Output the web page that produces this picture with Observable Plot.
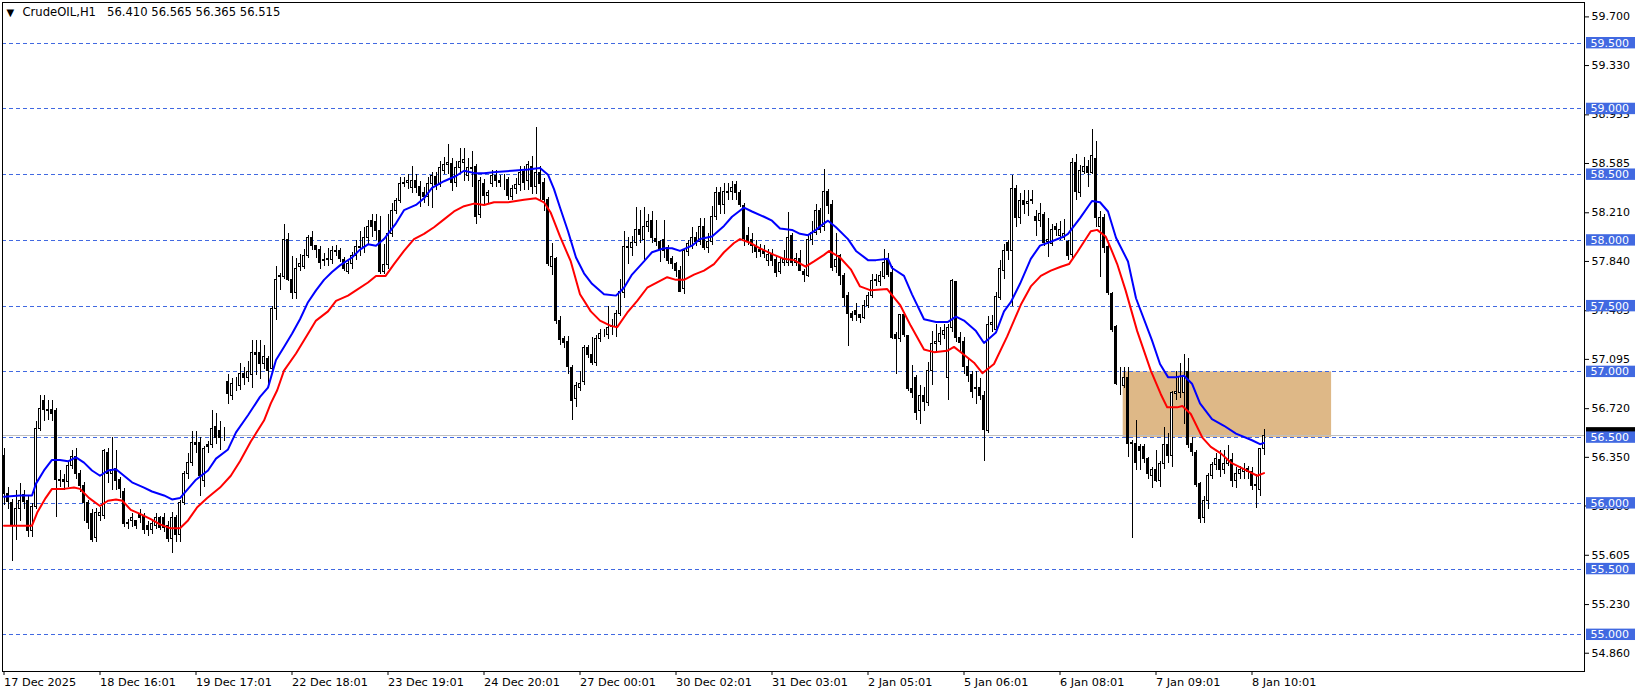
<!DOCTYPE html>
<html><head><meta charset="utf-8">
<script src="https://cdn.jsdelivr.net/npm/d3@7"></script>
<script src="https://cdn.jsdelivr.net/npm/@observablehq/plot@0.6"></script>
<style>
body{margin:0;background:#fff;}
svg{display:block;}
</style>
</head><body><div id="chart"></div>
<script>
// ---------- data ----------
const symbolTitle = "CrudeOIL,H1";
const lastQuote = [56.410, 56.565, 56.365, 56.515]; // O H L C of last bar
const dateTickBars = [0,24,48,72,96,120,144,168,192,216,240,264,288,312];
const dateLabels = ["17 Dec 2025","18 Dec 16:01","19 Dec 17:01","22 Dec 18:01","23 Dec 19:01","24 Dec 20:01","27 Dec 00:01","30 Dec 02:01","31 Dec 03:01","2 Jan 05:01","5 Jan 06:01","6 Jan 08:01","7 Jan 09:01","8 Jan 10:01"];
const priceTicks = [59.700,59.330,58.955,58.585,58.210,57.840,57.465,57.095,56.720,56.350,55.980,55.605,55.230,54.860];
const levels = [55.0,55.5,56.0,56.5,57.0,57.5,58.0,58.5,59.0,59.5];
const zone = [{bar1: 279.8, bar2: 331.9, top: 57.0, bottom: 56.5}];

// hourly candles [open, high, low, close]
const ohlc = [
[56.36,56.42,55.98,56.07],[56.07,56.12,55.95,56.01],[56.00,56.03,55.56,55.83],[55.83,56.10,55.72,55.955],[55.955,56.15,55.86,56.02],
[56.06,56.10,55.95,56.01],[56.02,56.06,55.74,55.79],[55.79,56.00,55.74,55.97],[55.97,56.62,55.95,56.565],[56.565,56.82,56.55,56.72],
[56.78,56.82,56.62,56.71],[56.71,56.78,56.63,56.70],[56.71,56.78,56.62,56.68],[56.70,56.72,55.89,56.18],[56.18,56.25,56.12,56.17],
[56.18,56.22,56.10,56.16],[56.16,56.31,56.12,56.285],[56.285,56.40,56.26,56.35],[56.35,56.42,56.18,56.22],[56.22,56.25,56.08,56.13],
[56.13,56.16,55.865,56.005],[56.00,56.02,55.80,55.85],[55.92,55.95,55.70,55.72],[55.74,55.96,55.70,55.93],[55.90,55.97,55.86,55.93],
[55.90,56.41,55.88,56.40],[56.38,56.42,56.15,56.22],[56.22,56.50,56.10,56.25],[56.26,56.40,56.10,56.17],[56.18,56.20,56.04,56.11],
[56.09,56.11,55.82,55.84],[55.84,55.88,55.80,55.85],[55.865,55.92,55.82,55.89],[55.865,55.87,55.80,55.83],[55.92,55.95,55.85,55.89],
[55.90,55.92,55.76,55.80],[55.83,55.86,55.75,55.80],[55.80,55.88,55.76,55.84],[55.83,55.92,55.80,55.89],[55.89,55.90,55.79,55.815],
[55.89,55.92,55.78,55.815],[55.83,55.86,55.70,55.725],[55.725,55.93,55.62,55.89],[55.89,55.91,55.70,55.76],[55.76,56.02,55.70,56.005],
[56.005,56.24,55.98,56.22],[56.22,56.38,56.18,56.31],[56.31,56.55,56.28,56.46],[56.46,56.55,56.38,56.44],[56.46,56.50,56.05,56.21],
[56.17,56.43,56.12,56.41],[56.44,56.47,56.38,56.43],[56.44,56.71,56.42,56.565],[56.58,56.68,56.45,56.50],[56.55,56.62,56.40,56.50],
[56.53,56.58,56.47,56.53],[56.92,56.98,56.75,56.83],[56.82,56.95,56.78,56.91],[56.90,56.96,56.85,56.90],[56.89,57.06,56.86,56.985],
[56.985,57.03,56.90,56.95],[56.95,57.08,56.92,57.00],[56.98,57.24,56.87,57.14],[57.14,57.24,56.97,57.13],[57.14,57.24,56.94,57.06],
[57.06,57.20,57.02,57.11],[57.10,57.12,56.90,57.01],[57.02,57.50,56.98,57.48],[57.48,57.80,57.39,57.70],[57.72,57.75,57.62,57.73],
[57.72,58.12,57.70,58.00],[58.00,58.05,57.69,57.70],[57.70,57.88,57.55,57.60],[57.60,57.86,57.55,57.78],[57.80,57.89,57.76,57.82],
[57.80,57.93,57.78,57.88],[57.88,58.04,57.86,58.02],[58.02,58.07,57.92,57.96],[57.96,57.96,57.86,57.93],[57.93,57.95,57.78,57.83],
[57.85,57.90,57.80,57.84],[57.85,57.94,57.80,57.86],[57.85,57.95,57.82,57.92],[57.91,57.96,57.88,57.92],[57.92,57.94,57.83,57.86],
[57.85,57.87,57.76,57.78],[57.76,57.85,57.74,57.82],[57.82,57.91,57.78,57.88],[57.88,58.00,57.85,57.95],[57.94,58.07,57.88,57.95],
[57.95,58.10,57.90,58.02],[58.02,58.15,57.96,58.10],[58.15,58.20,58.02,58.10],[58.14,58.20,58.00,58.07],[58.07,58.18,57.74,57.76],
[57.76,57.97,57.74,57.81],[57.81,58.20,57.78,58.05],[58.05,58.28,58.02,58.22],[58.22,58.32,58.20,58.30],[58.30,58.48,58.28,58.43],
[58.43,58.48,58.40,58.44],[58.44,58.50,58.39,58.455],[58.40,58.56,58.36,58.45],[58.45,58.50,58.36,58.40],[58.41,58.45,58.25,58.34],
[58.36,58.40,58.28,58.33],[58.33,58.48,58.26,58.43],[58.43,58.52,58.24,58.49],[58.48,58.52,58.38,58.42],[58.42,58.60,58.40,58.55],
[58.53,58.63,58.50,58.57],[58.575,58.73,58.50,58.59],[58.58,58.62,58.37,58.44],[58.44,58.60,58.40,58.55],[58.55,58.70,58.50,58.60],
[58.59,58.70,58.45,58.61],[58.49,58.62,58.45,58.55],[58.54,58.68,58.40,58.55],[58.56,58.58,58.12,58.18],[58.19,58.48,58.17,58.45],
[58.43,58.46,58.27,58.34],[58.34,58.38,58.28,58.36],[58.43,58.53,58.40,58.49],[58.49,58.53,58.40,58.45],[58.45,58.49,58.40,58.44],
[58.45,58.50,58.38,58.45],[58.46,58.48,58.30,58.34],[58.33,58.42,58.30,58.39],[58.39,58.47,58.35,58.42],[58.42,58.56,58.37,58.51],
[58.52,58.56,58.38,58.44],[58.45,58.60,58.38,58.57],[58.56,58.64,58.35,58.41],[58.41,58.86,58.35,58.51],[58.51,58.56,58.30,58.43],
[58.44,58.47,58.22,58.31],[58.31,58.33,57.80,57.82],[57.80,57.98,57.73,57.87],[57.86,57.87,57.36,57.39],[57.39,57.42,57.20,57.24],
[57.25,57.27,57.18,57.22],[57.23,57.27,56.98,57.04],[57.03,57.05,56.63,56.78],[56.79,56.92,56.73,56.89],[56.88,57.00,56.85,56.91],
[56.92,57.20,56.90,57.18],[57.18,57.20,57.10,57.13],[57.13,57.26,57.05,57.07],[57.07,57.28,57.04,57.25],[57.25,57.32,57.22,57.29],
[57.29,57.32,57.26,57.29],[57.28,57.50,57.25,57.33],[57.34,57.40,57.28,57.35],[57.34,57.47,57.26,57.44],[57.44,57.70,57.42,57.61],
[57.60,58.07,57.56,57.95],[57.95,58.02,57.82,57.94],[57.94,58.03,57.88,57.98],[57.98,58.25,57.95,58.08],[58.08,58.23,57.98,58.04],
[58.00,58.25,57.84,58.10],[58.10,58.20,58.06,58.14],[58.15,58.22,57.98,58.02],[58.01,58.15,57.95,57.99],[57.99,58.00,57.83,57.93],
[58.00,58.15,57.86,57.92],[57.94,57.96,57.82,57.84],[57.86,57.88,57.78,57.82],[57.82,57.83,57.72,57.77],[57.77,57.80,57.60,57.61],
[57.63,57.94,57.59,57.92],[57.91,58.00,57.88,57.97],[57.96,58.10,57.93,58.02],[58.02,58.06,57.95,57.99],[57.99,58.17,57.96,58.10],
[58.10,58.17,57.92,57.94],[57.94,58.05,57.90,57.99],[57.99,58.26,57.96,58.18],[58.18,58.40,58.15,58.36],[58.36,58.40,58.20,58.27],
[58.27,58.43,58.20,58.37],[58.36,58.43,58.30,58.37],[58.37,58.45,58.30,58.40],[58.42,58.45,58.30,58.36],[58.36,58.38,58.25,58.27],
[58.26,58.28,57.95,58.01],[58.03,58.10,57.96,57.99],[58.00,58.05,57.90,57.96],[57.96,58.00,57.86,57.91],[57.93,57.97,57.87,57.91],
[57.92,57.96,57.86,57.90],[57.84,57.93,57.80,57.89],[57.90,57.93,57.80,57.84],[57.85,57.88,57.72,57.75],[57.76,57.86,57.74,57.83],
[57.83,57.92,57.80,57.85],[57.83,58.21,57.80,58.02],[58.03,58.05,57.80,57.83],[57.83,57.90,57.80,57.86],[57.86,57.92,57.76,57.77],
[57.76,57.78,57.68,57.74],[57.73,58.04,57.72,58.00],[58.00,58.14,57.96,58.06],[58.06,58.27,58.04,58.22],[58.22,58.24,58.05,58.08],
[58.10,58.54,58.07,58.37],[58.37,58.39,58.20,58.26],[58.27,58.30,57.76,57.79],[57.80,58.05,57.75,57.85],[57.88,57.89,57.66,57.73],
[57.73,57.75,57.50,57.56],[57.58,57.60,57.19,57.44],[57.44,57.46,57.38,57.41],[57.46,57.52,57.38,57.43],[57.43,57.44,57.37,57.41],
[57.41,57.54,57.40,57.50],[57.50,57.60,57.48,57.58],[57.58,57.74,57.56,57.69],[57.69,57.74,57.65,57.70],[57.68,57.76,57.65,57.73],
[57.72,57.93,57.70,57.83],[57.84,57.90,57.72,57.74],[57.75,57.80,57.25,57.26],[57.28,57.30,56.98,57.25],[57.25,57.44,57.22,57.43],
[57.43,57.45,57.26,57.28],[57.27,57.28,56.85,56.87],[56.87,57.05,56.80,56.84],[56.95,56.97,56.63,56.69],[56.70,56.90,56.60,56.82],
[56.82,56.88,56.70,56.77],[56.76,57.07,56.74,57.01],[57.01,57.31,56.90,57.21],[57.21,57.36,57.15,57.23],[57.23,57.34,57.20,57.29],
[57.28,57.36,57.25,57.31],[56.95,57.36,56.78,57.33],[57.33,57.70,57.30,57.69],[57.68,57.69,57.22,57.26],[57.26,57.30,57.15,57.22],
[57.23,57.26,56.98,57.04],[57.04,57.10,56.92,56.97],[56.98,57.00,56.80,56.85],[56.87,57.00,56.75,56.88],[56.88,56.95,56.78,56.82],
[56.82,56.85,56.32,56.56],[56.55,57.42,56.53,57.36],[57.36,57.43,57.30,57.37],[57.32,57.60,57.30,57.57],[57.56,57.85,57.54,57.78],
[57.77,57.97,57.70,57.92],[57.98,58.00,57.85,57.92],[57.92,58.49,57.50,58.39],[58.39,58.42,58.10,58.17],[58.17,58.36,58.12,58.30],
[58.30,58.38,58.20,58.27],[58.28,58.38,58.18,58.29],[58.30,58.38,58.27,58.31],[58.18,58.23,58.03,58.15],[58.15,58.28,58.10,58.20],
[58.19,58.21,57.95,57.98],[57.99,58.17,57.87,58.00],[57.97,58.12,57.95,58.08],[58.10,58.13,58.03,58.08],[58.03,58.14,58.00,58.08],
[58.02,58.16,58.00,58.05],[57.99,58.00,57.85,57.88],[57.89,58.62,57.86,58.59],[58.59,58.65,58.30,58.37],[58.36,58.57,58.33,58.53],
[58.52,58.63,58.50,58.56],[58.56,58.61,58.40,58.51],[58.51,58.84,58.50,58.64],[58.62,58.75,58.10,58.17],[58.10,58.22,57.72,58.17],
[58.17,58.20,57.90,57.94],[57.95,57.97,57.58,57.60],[57.59,57.60,57.30,57.32],[57.34,57.35,56.90,56.91],[56.90,57.03,56.82,56.90],
[56.89,57.03,56.87,56.95],[56.95,57.03,56.35,56.45],[56.46,56.48,55.73,56.45],[56.45,56.63,56.25,56.31],[56.43,56.45,56.25,56.40],
[56.43,56.45,56.30,56.34],[56.34,56.35,56.18,56.22],[56.21,56.27,56.11,56.25],[56.25,56.40,56.16,56.17],[56.17,56.32,56.12,56.30],
[56.30,56.58,56.26,56.44],[56.44,56.53,56.30,56.36],[56.36,56.85,56.27,56.84],[56.83,57.00,56.78,56.85],[56.84,57.06,56.80,56.96],
[56.84,57.13,56.60,56.96],[57.00,57.10,56.42,56.44],[56.45,56.50,56.36,56.39],[56.38,56.40,56.12,56.14],[56.15,56.16,55.85,55.88],
[55.89,56.05,55.85,56.02],[56.02,56.23,55.95,56.21],[56.21,56.31,56.18,56.29],[56.29,56.38,56.25,56.34],[56.33,56.40,56.20,56.25],
[56.25,56.40,56.22,56.30],[56.30,56.44,56.28,56.33],[56.33,56.38,56.12,56.17],[56.17,56.27,56.11,56.22],[56.22,56.28,56.18,56.25],
[56.24,56.30,56.18,56.26],[56.26,56.28,56.18,56.24],[56.24,56.27,56.10,56.13],[56.13,56.22,55.96,56.14],[56.10,56.42,56.05,56.41],
[56.41,56.565,56.365,56.515]
];

// blue and red moving-average lines: [bar, price]
const blueLine = [[0,56.05],[4,56.06],[7,56.06],[8,56.15],[10,56.25],[12,56.33],[14,56.33],[16,56.32],[18,56.35],[20,56.31],[22,56.25],[24,56.21],[26,56.25],[28,56.26],[30,56.21],[32,56.16],[35,56.12],[37,56.09],[40,56.06],[42,56.03],[44,56.04],[46,56.11],[48,56.18],[51,56.25],[53,56.34],[56,56.41],[58,56.54],[61,56.67],[64,56.81],[66,56.88],[68,57.09],[70,57.19],[72,57.29],[74,57.40],[76,57.53],[78,57.62],[80,57.70],[82,57.76],[84,57.81],[87,57.87],[89,57.93],[91,57.97],[93,57.96],[95,58.01],[98,58.13],[100,58.23],[103,58.27],[105,58.32],[107,58.40],[110,58.45],[113,58.49],[115,58.53],[118,58.51],[120,58.51],[123,58.52],[127,58.53],[131,58.54],[134,58.55],[136,58.50],[137.5,58.39],[139,58.25],[141,58.07],[143,57.87],[145,57.75],[147,57.67],[150,57.59],[153,57.58],[155,57.64],[157,57.74],[160,57.84],[162,57.91],[165,57.94],[167,57.94],[169,57.92],[172,57.96],[174,58.01],[177,58.03],[180,58.11],[182,58.18],[185,58.25],[187,58.22],[190,58.18],[192,58.15],[194,58.09],[197,58.08],[199,58.05],[201,58.04],[203,58.08],[205,58.13],[206,58.15],[208,58.10],[211,58.01],[213,57.92],[216,57.85],[218,57.85],[221,57.86],[222,57.79],[225,57.73],[227,57.59],[230,57.40],[233,57.38],[236,57.38],[238,57.42],[240,57.39],[243,57.31],[245,57.22],[248,57.30],[250,57.46],[251.7,57.53],[254,57.67],[256.7,57.86],[259,57.96],[261.7,57.99],[265,58.03],[266,58.05],[269,58.17],[272,58.30],[274,58.29],[276,58.22],[278,58.02],[281,57.84],[283,57.56],[287,57.24],[289,57.06],[291,56.96],[293,56.96],[295,56.97],[297,56.91],[299,56.76],[302,56.64],[305,56.59],[308,56.53],[312,56.48],[314,56.45],[315,56.46]];
const redLine = [[0,55.83],[3,55.83],[7,55.83],[8.3,55.93],[10.4,56.04],[12,56.11],[15,56.11],[17.5,56.12],[19,56.11],[21.3,56.04],[24,55.98],[26,56.02],[28,56.03],[29.6,56.02],[31.7,55.95],[34,55.92],[36.7,55.88],[39,55.84],[41.7,55.81],[44,55.81],[46,55.87],[48.3,55.97],[50.8,56.04],[54,56.12],[56.7,56.21],[59,56.32],[61.7,56.47],[65,56.63],[66.7,56.76],[68.3,56.86],[70,57.01],[73,57.14],[76,57.29],[78,57.39],[81,57.46],[83,57.54],[86,57.58],[88,57.62],[91,57.68],[93,57.73],[95.4,57.73],[97.5,57.82],[100,57.92],[102.5,58.01],[105,58.05],[107.5,58.10],[110,58.16],[112.5,58.22],[115,58.26],[117.5,58.28],[120,58.27],[122.5,58.29],[126,58.29],[130,58.31],[133,58.32],[135,58.29],[136.7,58.21],[139,58.03],[141.7,57.84],[144,57.59],[146.7,57.46],[149,57.39],[151.7,57.35],[153.3,57.34],[155.8,57.45],[158.3,57.54],[160.8,57.64],[163.3,57.68],[165.8,57.72],[168,57.70],[170,57.70],[172.5,57.74],[175,57.77],[177.5,57.82],[180,57.91],[182.5,57.98],[184,58.01],[186.7,57.98],[189,57.94],[192.5,57.89],[195,57.86],[197.5,57.85],[200.4,57.80],[202.5,57.84],[205,57.89],[206.25,57.92],[209,57.87],[211.7,57.78],[214,57.65],[216.7,57.62],[220.8,57.63],[224,57.51],[226.7,57.35],[230,57.17],[232.5,57.15],[235.8,57.16],[237.5,57.19],[240,57.13],[242.5,57.07],[244.6,56.99],[247.5,57.06],[250.8,57.27],[254.2,57.51],[256.7,57.65],[259.2,57.73],[261.7,57.77],[264.2,57.80],[266.25,57.82],[268.3,57.91],[271.7,58.07],[273.3,58.08],[275.4,58.03],[276.7,57.94],[278.3,57.82],[280.4,57.62],[283.3,57.31],[286.7,57.01],[289.2,56.83],[290.8,56.73],[293.3,56.73],[294.6,56.74],[296.7,56.68],[299.6,56.50],[301.7,56.43],[304.2,56.38],[306.7,56.31],[310,56.26],[313.3,56.21],[315,56.23]];

// ---------- layout ----------
const W = 1641, H = 695;
const mL = 2, mR = 57, mT = 2, mB = 24;
const barPx = 4, firstBarPx = 3.5;           // bar spacing in pixels
const px = 1 / barPx;                          // one pixel in bar units
const xDom = [(mL - firstBarPx) / barPx, (W - mR - firstBarPx) / barPx];
const pxPerPrice = 131.47;
const yTop = 59.5 + (42.7 - mT) / pxPerPrice;
const yBot = 59.5 - (H - mB - 42.7) / pxPerPrice;
const pp = 1 / pxPerPrice;                     // one pixel in price units

const bars = ohlc.map(([o, h, l, c], i) => ({i, o, h, l, c, up: c >= o}));
const labelMap = new Map(dateTickBars.map((t, k) => [t, dateLabels[k]]));
const boxX1 = xDom[1] + 2 * px, boxX2 = xDom[1] + 51 * px;
const levelBlue = "#4169E1";
const title = `${symbolTitle}\u00a0\u00a0 ${lastQuote.map(v => v.toFixed(3)).join(" ")}`;

const chart = Plot.plot({
  width: W, height: H,
  marginLeft: mL, marginRight: mR, marginTop: mT, marginBottom: mB,
  style: {fontFamily: "DejaVu Sans", fontSize: "11px", background: "white", color: "black"},
  x: {type: "linear", domain: xDom},
  y: {type: "linear", domain: [yBot, yTop]},
  marks: [
    Plot.rect(zone, {x1: "bar1", x2: "bar2", y1: "bottom", y2: "top", fill: "#DEB887"}),
    Plot.ruleY(levels, {stroke: levelBlue, strokeDasharray: "4,3", shapeRendering: "crispEdges"}),
    Plot.ruleY([lastQuote[3]], {stroke: "#C0C0C0", shapeRendering: "crispEdges"}),
    Plot.ruleX(bars, {x: "i", y1: "l", y2: "h", stroke: "black", shapeRendering: "crispEdges"}),
    Plot.rect(bars, {x1: d => d.i - 0.25, x2: d => d.i + 0.25, y1: "o", y2: "c",
      fill: d => d.up ? "white" : "black", stroke: "black", shapeRendering: "crispEdges"}),
    Plot.line(redLine, {x: d => d[0], y: d => d[1], stroke: "#FF0000", strokeWidth: 2}),
    Plot.line(blueLine, {x: d => d[0], y: d => d[1], stroke: "#0000FF", strokeWidth: 2}),
    Plot.frame({stroke: "black", shapeRendering: "crispEdges"}),
    Plot.axisY(priceTicks, {anchor: "right", tickSize: 4, tickPadding: 3, label: null,
      tickFormat: d => d.toFixed(3), fontSize: 11}),
    Plot.axisX(dateTickBars, {anchor: "bottom", tickSize: 4, tickPadding: 2, label: null,
      textAnchor: "start", tickFormat: d => labelMap.get(d), fontSize: 11.3}),
    Plot.rect([lastQuote[3]], {x1: () => boxX1, x2: () => boxX2,
      y1: d => d - 4 * pp, y2: d => d + 8 * pp, fill: "black"}),
    Plot.rect(levels, {x1: () => boxX1, x2: () => boxX2,
      y1: d => d - 5.7 * pp, y2: d => d + 5.7 * pp, fill: levelBlue}),
    Plot.text(levels, {x: () => boxX1 + 4 * px, y: d => d, text: d => d.toFixed(3),
      fill: "white", textAnchor: "start", fontSize: 11}),
    Plot.text(["\u25BC"], {frameAnchor: "top-left", dx: 4, dy: 6, fontSize: 10, textAnchor: "start", lineAnchor: "top"}),
    Plot.text([title], {frameAnchor: "top-left", dx: 20, dy: 5, fontSize: 11.6, textAnchor: "start", lineAnchor: "top"})
  ]
});
document.getElementById("chart").appendChild(chart);
</script>
</body></html>
